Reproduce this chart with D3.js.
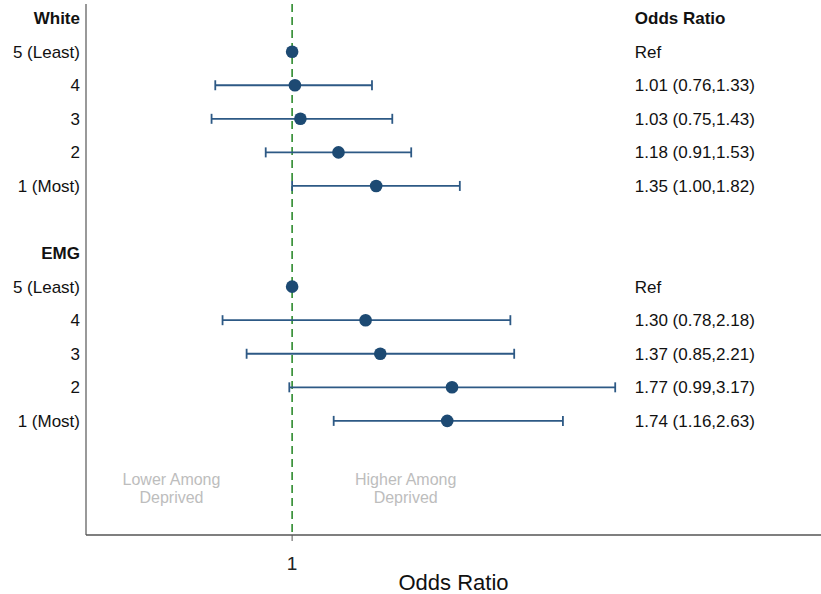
<!DOCTYPE html>
<html>
<head>
<meta charset="utf-8">
<script src="https://cdn.jsdelivr.net/npm/d3@7"></script>
<style>
  body { margin: 0; background: #fff; }
  svg text { font-family: "Liberation Sans", Arial, sans-serif; }
</style>
</head>
<body>
<svg id="canvas" width="821" height="594"></svg>
<script>
// row labels top to bottom ("" = spacer row)
const rowLabels = ["White", "5 (Least)", "4", "3", "2", "1 (Most)", "",
                   "EMG", "5 (Least)", "4", "3", "2", "1 (Most)"];
const headerRows = [0, 7];

// estimates per row (null = no point)
const orValues = [null, 1.00, 1.01, 1.03, 1.18, 1.35, null,
                  null, 1.00, 1.30, 1.37, 1.77, 1.74];
const lowerCI = [null, null, 0.76, 0.75, 0.91, 1.00, null,
                 null, null, 0.78, 0.85, 0.99, 1.16];
const upperCI = [null, null, 1.33, 1.43, 1.53, 1.82, null,
                 null, null, 2.18, 2.21, 3.17, 2.63];
const orText = ["Odds Ratio", "Ref", "1.01 (0.76,1.33)", "1.03 (0.75,1.43)",
                "1.18 (0.91,1.53)", "1.35 (1.00,1.82)", "",
                "", "Ref", "1.30 (0.78,2.18)", "1.37 (0.85,2.21)",
                "1.77 (0.99,3.17)", "1.74 (1.16,2.63)"];

const xTicks = [1];
const textColumnAt = 3.4;
const annotations = [
  { x: 0.65, lines: ["Lower Among", "Deprived"] },
  { x: 1.5, lines: ["Higher Among", "Deprived"] }
];

const svg = d3.select("#canvas");
const plotLeft = 86, plotRight = 821, plotTop = 0, plotBottom = 535;

const x = d3.scaleLog().domain([0.479, 6.61]).range([plotLeft, plotRight]);
const y = d3.scaleLinear().domain([-0.54, 15.4]).range([plotTop, plotBottom]);

const navy = "#1d4a73";

// axes lines
svg.append("line")
  .attr("x1", plotLeft).attr("x2", plotLeft).attr("y1", 4).attr("y2", plotBottom)
  .attr("stroke", "#555").attr("stroke-width", 1.2);
svg.append("line")
  .attr("x1", plotLeft).attr("x2", plotRight).attr("y1", plotBottom).attr("y2", plotBottom)
  .attr("stroke", "#555").attr("stroke-width", 1.5);

// x ticks
xTicks.forEach(t => {
  svg.append("line")
    .attr("x1", x(t)).attr("x2", x(t)).attr("y1", plotBottom).attr("y2", plotBottom + 6)
    .attr("stroke", "#555").attr("stroke-width", 1);
  svg.append("text")
    .attr("x", x(t)).attr("y", 570)
    .attr("text-anchor", "middle").attr("font-size", 19).attr("fill", "#222")
    .text(t);
});

svg.append("text")
  .attr("x", (plotLeft + plotRight) / 2).attr("y", 590)
  .attr("text-anchor", "middle").attr("font-size", 22).attr("fill", "#111")
  .text("Odds Ratio");

// reference line
svg.append("line")
  .attr("x1", x(1)).attr("x2", x(1)).attr("y1", 4).attr("y2", plotBottom)
  .attr("stroke", "#2e8b2e").attr("stroke-width", 1.6)
  .attr("stroke-dasharray", "8,5");

// y labels
svg.selectAll(".ylab")
  .data(rowLabels)
  .enter()
  .append("text")
  .attr("class", "ylab")
  .attr("x", 80)
  .attr("y", (d, i) => y(i))
  .attr("dy", "0.35em")
  .attr("text-anchor", "end")
  .attr("font-size", 17)
  .attr("font-weight", (d, i) => headerRows.includes(i) ? "bold" : "normal")
  .attr("fill", "#111")
  .text(d => d);

// whiskers
const ciRows = d3.range(rowLabels.length).filter(i => lowerCI[i] !== null);
const ci = svg.append("g").attr("stroke", "#2d5985").attr("stroke-width", 1.8);
ciRows.forEach(i => {
  ci.append("line")
    .attr("x1", x(lowerCI[i])).attr("x2", x(upperCI[i]))
    .attr("y1", y(i)).attr("y2", y(i));
  [lowerCI[i], upperCI[i]].forEach(v => {
    ci.append("line")
      .attr("x1", x(v)).attr("x2", x(v))
      .attr("y1", y(i) - 5).attr("y2", y(i) + 5);
  });
});

// points
const pts = d3.range(rowLabels.length).filter(i => orValues[i] !== null);
svg.selectAll(".pt")
  .data(pts)
  .enter()
  .append("circle")
  .attr("class", "pt")
  .attr("cx", i => x(orValues[i]))
  .attr("cy", i => y(i))
  .attr("r", 6.3)
  .attr("fill", navy);

// odds ratio text column
svg.selectAll(".ortext")
  .data(orText)
  .enter()
  .append("text")
  .attr("class", "ortext")
  .attr("x", x(textColumnAt))
  .attr("y", (d, i) => y(i))
  .attr("dy", "0.35em")
  .attr("font-size", 17)
  .attr("font-weight", (d, i) => i === 0 ? "bold" : "normal")
  .attr("fill", "#111")
  .text(d => d);

// annotations
annotations.forEach(a => {
  a.lines.forEach((ln, k) => {
    svg.append("text")
      .attr("x", x(a.x))
      .attr("y", 479 + k * 18)
      .attr("dy", "0.35em")
      .attr("text-anchor", "middle")
      .attr("font-size", 16)
      .attr("fill", "#bdbdbd")
      .text(ln);
  });
});
</script>
</body>
</html>
